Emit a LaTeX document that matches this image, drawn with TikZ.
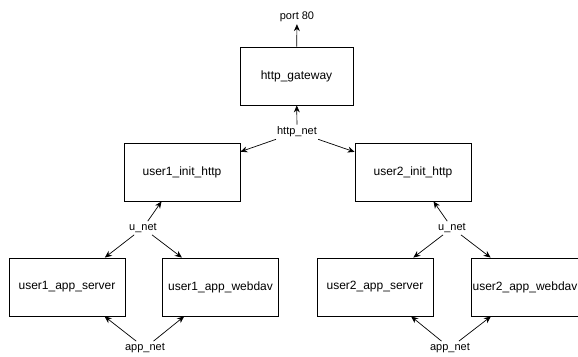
\documentclass[tikz,border=0pt]{standalone}
\usepackage{fontspec}
\setmainfont{Liberation Sans}
\usetikzlibrary{arrows.meta}
\begin{document}
\begin{tikzpicture}[x=1pt,y=-1pt,
  box/.style={draw,line width=0.8pt,minimum width=116pt,minimum height=58pt,
    inner sep=0pt,font=\fontsize{12}{14}\selectfont},
  lbl/.style={inner sep=2pt,font=\fontsize{11}{13}\selectfont},
  arr/.style={-{Stealth[length=7pt,width=6pt]},line width=0.7pt}]
  \useasboundingbox (0,0) rectangle (578,356);
  \node[box,minimum width=113pt] (gateway) at (296.5,76) {http\_gateway};
  \node[lbl] (port80) at (297,17) {port 80};
  \node[lbl] (httpnet) at (297,132) {http\_net};
  \node[box] (init1) at (182,172) {user1\_init\_http};
  \node[box] (init2) at (413,172) {user2\_init\_http};
  \node[lbl] (unet1) at (143,228) {u\_net};
  \node[lbl] (unet2) at (452,228) {u\_net};
  \node[box] (server1) at (67,287) {user1\_app\_server};
  \node[box] (webdav1) at (220.5,287) {user1\_app\_webdav};
  \node[box] (server2) at (375,287) {user2\_app\_server};
  \node[box] (webdav2) at (529,287) {user2\_app\_webdav\kern8pt};
  \node[lbl] (appnet1) at (145,348) {app\_net};
  \node[lbl] (appnet2) at (450,348) {app\_net};
  \draw[arr] (gateway) -- (port80);
  \draw[arr] (httpnet) -- (gateway);
  \draw[arr] (httpnet) -- (init1);
  \draw[arr] (httpnet) -- (init2);
  \draw[arr] (unet1) -- (init1);
  \draw[arr] (unet1) -- (server1);
  \draw[arr] (unet1) -- (webdav1);
  \draw[arr] (unet2) -- (init2);
  \draw[arr] (unet2) -- (server2);
  \draw[arr] (unet2) -- (webdav2);
  \draw[arr] (appnet1) -- (server1);
  \draw[arr] (appnet1) -- (webdav1);
  \draw[arr] (appnet2) -- (server2);
  \draw[arr] (appnet2) -- (webdav2);
\end{tikzpicture}
\end{document}
